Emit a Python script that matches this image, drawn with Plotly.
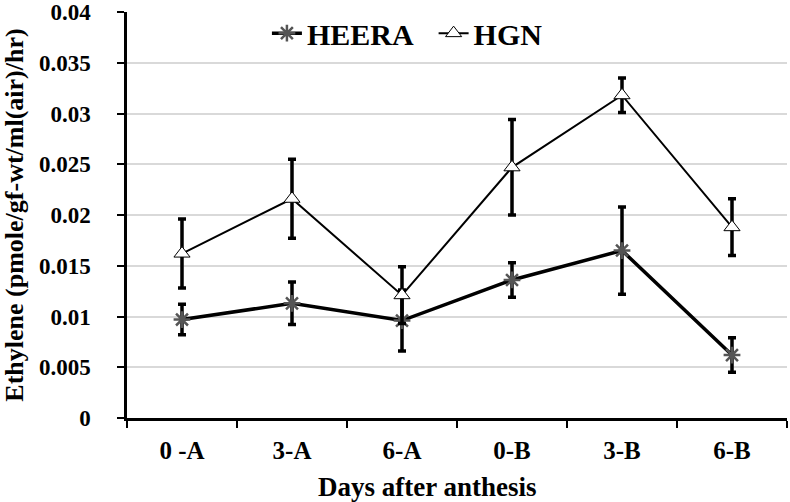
import plotly.graph_objects as go

categories = ["0 -A", "3-A", "6-A", "0-B", "3-B", "6-B"]
heera = [0.0097, 0.0113, 0.0096, 0.0136, 0.0165, 0.0062]
heera_err = [0.0015, 0.0021, 0.0030, 0.0017, 0.0043, 0.0017]
hgn = [0.0162, 0.0216, 0.0121, 0.0247, 0.0318, 0.0188]
hgn_err = [0.0034, 0.0039, 0.0028, 0.0047, 0.0017, 0.0028]
y_ticks = [0, 0.005, 0.01, 0.015, 0.02, 0.025, 0.03, 0.035, 0.04]
y_labels = ["0", "0.005", "0.01", "0.015", "0.02", "0.025", "0.03", "0.035", "0.04"]

font = "Liberation Serif, Times New Roman, serif"

fig = go.Figure()
fig.add_trace(go.Scatter(
    x=categories, y=heera, name="<b>HEERA</b>  ", mode="lines+markers",
    line=dict(color="black", width=3.5),
    marker=dict(symbol="asterisk-open", size=14, color="#555555",
                line=dict(color="#555555", width=2.5)),
    error_y=dict(type="data", array=heera_err, visible=True,
                 color="black", thickness=3.5, width=4),
))
fig.add_trace(go.Scatter(
    x=categories, y=hgn, name="<b>HGN</b>", mode="lines+markers",
    line=dict(color="black", width=2),
    marker=dict(symbol="triangle-up", size=14, color="white",
                line=dict(color="black", width=1)),
    error_y=dict(type="data", array=hgn_err, visible=True,
                 color="black", thickness=3.5, width=4),
))

fig.update_layout(
    width=790, height=502,
    margin=dict(l=127, r=3, t=12, b=84),
    paper_bgcolor="white", plot_bgcolor="white",
    font=dict(family=font, size=23, color="black"),
    showlegend=True,
    legend=dict(orientation="h", x=0.212, y=1.012, xanchor="left", yanchor="top",
                font=dict(family=font, size=30, color="black"),
                bgcolor="rgba(0,0,0,0)", tracegroupgap=0),
    xaxis=dict(
        type="category", showline=True, linecolor="black", linewidth=2.5,
        ticks="outside", tickson="boundaries", ticklen=7, tickwidth=2, tickcolor="black",
        showgrid=False, automargin=False, ticklabelstandoff=8,
        tickfont=dict(family=font, size=25),
        tickvals=categories, ticktext=["<b>%s</b>" % c for c in categories],
        range=[-0.5, 5.5],
    ),
    yaxis=dict(
        range=[0, 0.04], showline=True, linecolor="black", linewidth=2.5,
        ticks="outside", ticklen=7, tickwidth=2, tickcolor="black",
        tickvals=y_ticks, ticktext=["<b>%s</b>" % t for t in y_labels],
        showgrid=True, gridcolor="#d9d9d9", gridwidth=1.5,
        zeroline=False, automargin=False, ticklabelstandoff=22,
        ticklabeloverflow="allow",
        title=dict(text="<b>Ethylene (pmole/gf-wt/ml(air)/hr)</b>", font=dict(family=font, size=26), standoff=12),
        tickfont=dict(family=font, size=23),
    ),
    annotations=[dict(
        text="<b>Days after anthesis</b>", xref="paper", yref="paper",
        x=0.456, y=0, yshift=-69, xanchor="center", yanchor="middle",
        showarrow=False, font=dict(family=font, size=27, color="black"),
    )],
)

fig.write_html("out.html", config={"displayModeBar": False},
               post_script="document.body.style.margin='0';document.body.style.overflow='hidden';")
